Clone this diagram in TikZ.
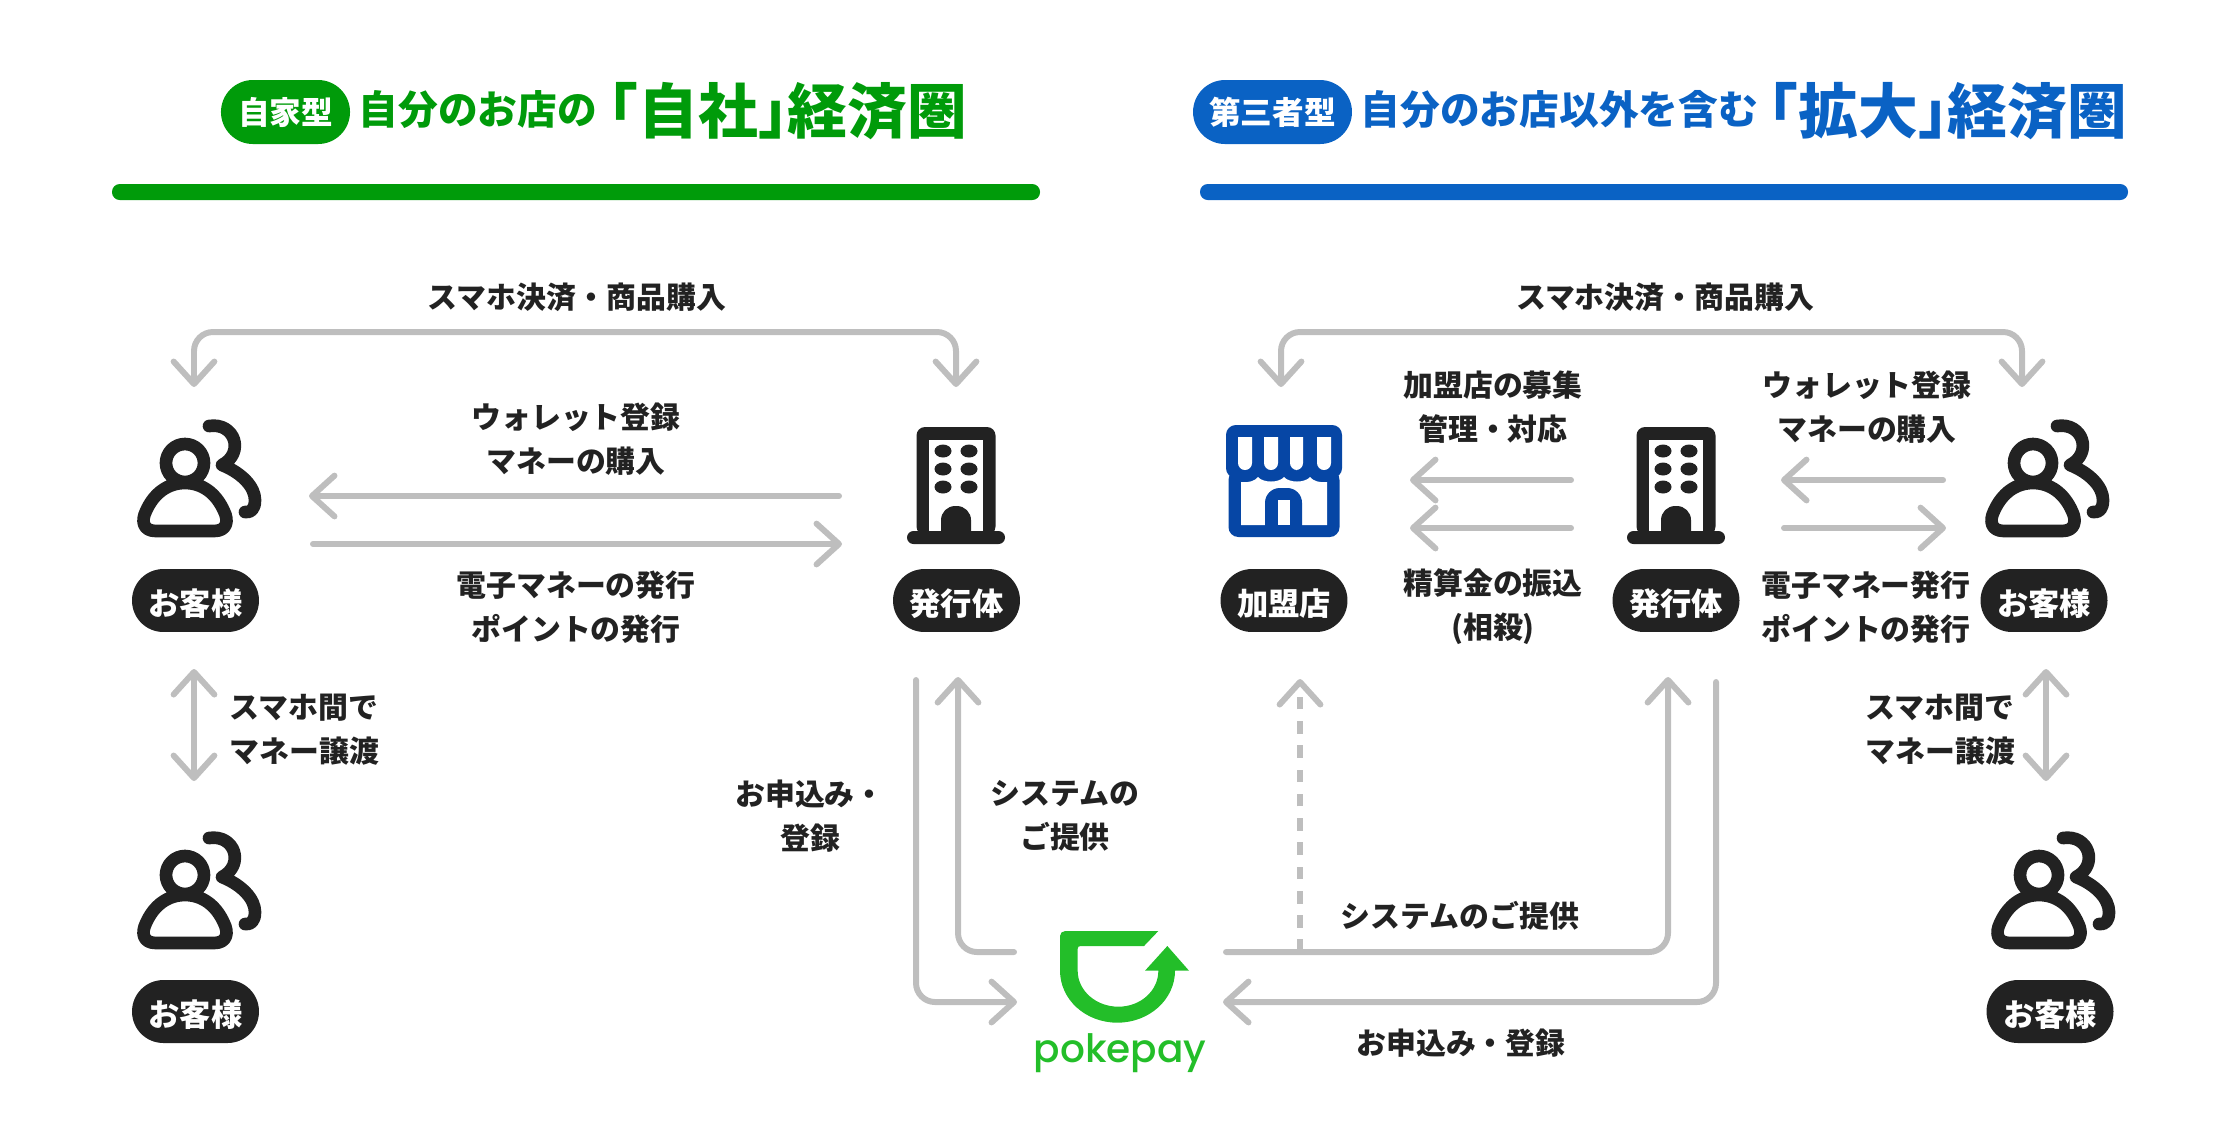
\documentclass[tikz,border=0pt]{standalone}
\usepackage{fontspec}
\setmainfont{Noto Sans CJK JP}
\newfontfamily\logofont{Poppins}[UprightFont=* Medium]
\usetikzlibrary{arrows.meta}
\definecolor{ink}{HTML}{222222}
\definecolor{wire}{HTML}{BEBEBE}
\definecolor{jisha}{HTML}{009B0A}
\definecolor{kakudai}{HTML}{0A62C4}
\definecolor{shop}{HTML}{0646A5}
\definecolor{poke}{HTML}{23BE29}
\begin{document}
\begin{tikzpicture}[x=.01cm,y=-.01cm,
  >={Straight Barb[length=6.4pt,width=11.6pt,round]},
  flow/.style={draw=wire,line width=1.7pt,line cap=round,rounded corners=5.4pt},
  lbl/.style={text=ink,inner sep=0pt,align=center,font=\bfseries\fontsize{8.5}{12.5}\selectfont},
  lblleft/.style={lbl,align=left,anchor=west},
  pill/.style={fill=ink,text=white,inner sep=0pt,minimum width=36.1pt,minimum height=17.9pt,
    rounded corners=8.9pt,text height=.95em,font=\bfseries\fontsize{8.9}{10}\selectfont},
  headpill/.style={text=white,inner sep=0pt,minimum height=18.2pt,rounded corners=9.1pt,
    font=\bfseries\fontsize{9}{10}\selectfont},
  subtitle/.style={anchor=base west,inner sep=0pt,font=\bfseries\fontsize{11.3}{13}\selectfont},
  bigtitle/.style={anchor=base west,inner sep=0pt,font=\bfseries\fontsize{17}{19}\selectfont},
  person/.pic={
    \draw[ink,line width=3.6pt,line cap=round,line join=round]
      (0,0) circle[radius=19]
      (-29,68) .. controls (-42,68) and (-44,58) .. (-39,48)
      .. controls (-31,30) and (-17,20) .. (0,20)
      .. controls (17,20) and (31,30) .. (39,48)
      .. controls (44,58) and (42,68) .. (29,68) -- cycle
      (24,-37) .. controls (50,-41) and (60,-10) .. (37,2)
      .. controls (57,10) and (70,24) .. (70,37)
      .. controls (70,46) and (66,50) .. (60,49);
  },
  building/.pic={
    \fill[ink,rounded corners=2.4pt] (-39.5,50) rectangle (39.5,-58);
    \fill[ink,rounded corners=1.85pt] (-49,46) rectangle (49,59);
    \fill[white] (-27,46) rectangle (27,-45);
    \foreach \wy in {-34,-16,2} {
      \fill[ink] (-13,\wy) ellipse[x radius=8.5,y radius=6.5];
      \fill[ink] (13,\wy) ellipse[x radius=8.5,y radius=6.5];
    }
    \fill[ink,rounded corners=4pt] (-15,47) -- (-15,21) -- (15,21) -- (15,47);
  }]
  \useasboundingbox (0,0) rectangle (2240,1120);

  \node[headpill,fill=jisha,minimum width=36.7pt] (pillA) at (285.5,112) {自家型};
  \node[subtitle,text=jisha] (subA) at (358,124) {自分のお店の};
  \node[bigtitle,text=jisha] (bigA) at (578,133) {「自社」\hspace{-8.5pt}経済圏};
  \fill[jisha,rounded corners=2.2pt] (112,184) rectangle (1040,200);
  \node[headpill,fill=kakudai,minimum width=45.2pt] (pillB) at (1272.5,112) {第三者型};
  \node[subtitle,text=kakudai] (subB) at (1360,124) {自分のお店以外を含む};
  \node[bigtitle,text=kakudai] (bigB) at (1738,133) {「拡大」\hspace{-8.5pt}経済圏};
  \fill[kakudai,rounded corners=2.2pt] (1200,184) rectangle (2128,200);

  \pic at (185,463) {person};
  \pic at (185,875) {person};
  \pic at (2033,463) {person};
  \pic at (2039,875) {person};
  \pic at (956,485) {building};
  \pic at (1676,485) {building};

  \node[pill] (custA) at (195.5,600.5) {お客様};
  \node[pill] (custAb) at (195.5,1011.5) {お客様};
  \node[pill] (orgA) at (956.5,600.5) {発行体};
  \node[pill] (shopB) at (1284,600.5) {加盟店};
  \node[pill] (orgB) at (1676,600.5) {発行体};
  \node[pill] (custB) at (2044,600.5) {お客様};
  \node[pill] (custBb) at (2050,1011.5) {お客様};

  \begin{scope}[shift={(1284,480)}]
    \fill[shop,rounded corners=2.8pt] (-58,-2) -- (-58,-55) -- (58,-55) -- (58,-2) -- cycle;
    \fill[shop,rounded corners=2.8pt] (-55.5,-10) -- (-55.5,57) -- (55.5,57) -- (55.5,-10) -- cycle;
    \foreach \sa/\sb in {-46/-32,-20/-6,6/19,33/47} {
      \fill[white] (\sa,-43) [rounded corners=2pt] -- (\sa,-10) -- (\sb,-10) [sharp corners] -- (\sb,-43) -- cycle;
    }
    \fill[white] (-43,2) .. controls (-36,3) and (-29,1) .. (-26,-3)
      .. controls (-21,3) and (-5,3) .. (0,-3)
      .. controls (5,3) and (21,3) .. (26,-3)
      .. controls (29,1) and (36,3) .. (43,2) -- (43,45) -- (-43,45) -- cycle;
    \fill[shop,rounded corners=4.2pt] (-19,46) -- (-19,8) -- (18,8) -- (18,46);
    \fill[white] (-6,45) rectangle (6,20);
  \end{scope}

  \begin{scope}[shift={(950,880)},x=.01cm/3,y=-.01cm/3]
    \fill[poke] (330,272) -- (330,168) .. controls (330,159) and (337,153) .. (346,153)
      -- (625,153) -- (582,198) -- (392,198) .. controls (386,198) and (383,201) .. (383,206)
      -- (383,272) .. controls (383,332) and (438,380) .. (505,380)
      .. controls (572,380) and (625,332) .. (625,272)
      -- (585,272) -- (652,198) -- (717,272) -- (675,272)
      .. controls (675,358) and (598,428) .. (502,428)
      .. controls (406,428) and (330,358) .. (330,272) -- cycle;
  \end{scope}
  \node[text=poke,inner sep=0pt,anchor=base,font=\logofont\fontsize{11.1}{12}\selectfont] (logoName) at (1120,1062) {pokepay};

  \coordinate (tipAl) at (194,387);
  \coordinate (tipAr) at (956,387);
  \coordinate (barA) at (0,332);
  \coordinate (tipBl) at (1281,387);
  \coordinate (tipBr) at (2022,387);
  \coordinate (custAe) at (309,496);
  \coordinate (orgAw) at (839,496);
  \coordinate (custAf) at (313,544);
  \coordinate (orgAv) at (842,544);
  \coordinate (custAs) at (194,669);
  \coordinate (custAt) at (194,781);
  \coordinate (custBs) at (2046,669);
  \coordinate (custBt) at (2046,781);
  \coordinate (orgAout) at (916,680);
  \coordinate (orgAup) at (958,677);
  \coordinate (logoAin) at (1014,952);
  \coordinate (logoAl) at (1017,1002);
  \coordinate (orgBout) at (1716,682);
  \coordinate (orgBup) at (1668,677);
  \coordinate (logoBout) at (1226,952);
  \coordinate (logoBr) at (1223,1002);
  \coordinate (shopBup) at (1300,679);
  \coordinate (shopE) at (1410,480);
  \coordinate (orgBw) at (1571,480);
  \coordinate (shopF) at (1410,528);
  \coordinate (orgBv) at (1571,528);
  \coordinate (orgBe) at (1781,480);
  \coordinate (custBw) at (1943,480);
  \coordinate (orgBf) at (1784,528);
  \coordinate (custBv) at (1946,528);

  \draw[flow,<->] (tipAl) -- (tipAl |- barA) -- (tipAr |- barA) -- (tipAr);
  \draw[flow,<->] (tipBl) -- (tipBl |- barA) -- (tipBr |- barA) -- (tipBr);
  \draw[flow,->] (orgAw) -- (custAe);
  \draw[flow,->] (custAf) -- (orgAv);
  \draw[flow,->] (orgBw) -- (shopE);
  \draw[flow,->] (orgBv) -- (shopF);
  \draw[flow,->] (custBw) -- (orgBe);
  \draw[flow,->] (orgBf) -- (custBv);
  \draw[flow,<->] (custAs) -- (custAt);
  \draw[flow,<->] (custBs) -- (custBt);
  \draw[flow,->] (logoAin) -| (orgAup);
  \draw[flow,->] (orgAout) |- (logoAl);
  \draw[flow,->] (logoBout) -| (orgBup);
  \draw[flow,->] (orgBout) |- (logoBr);
  \draw[flow,->,dash pattern=on 3.6pt off 3.3pt,line cap=butt] (shopBup |- logoBout) -- (shopBup);

  \node[lbl] (payA) at (577,297) {スマホ決済・商品購入};
  \node[lbl] (walletA) at (576,439) {ウォレット登録\\マネーの購入};
  \node[lbl] (issueA) at (576,607) {電子マネーの発行\\ポイントの発行};
  \node[lblleft] (giftA) at (229,730) {スマホ間で\\マネー譲渡};
  \node[lbl] (applyA) at (810,816) {お申込み・\\登録};
  \node[lbl] (sysA) at (1065,816) {システムの\\ご提供};
  \node[lbl] (payB) at (1665,297) {スマホ決済・商品購入};
  \node[lbl] (recruitB) at (1493,407) {加盟店の募集\\管理・対応};
  \node[lbl] (settleB) at (1493,607) {精算金の振込\\(相殺)};
  \node[lbl] (walletB) at (1867,407) {ウォレット登録\\マネーの購入};
  \node[lbl] (issueB) at (1866,607) {電子マネー発行\\ポイントの発行};
  \node[lblleft] (giftB) at (1865,730) {スマホ間で\\マネー譲渡};
  \node[lbl] (sysB) at (1460,916) {システムのご提供};
  \node[lbl] (applyB) at (1461,1043) {お申込み・登録};
\end{tikzpicture}
\end{document}
